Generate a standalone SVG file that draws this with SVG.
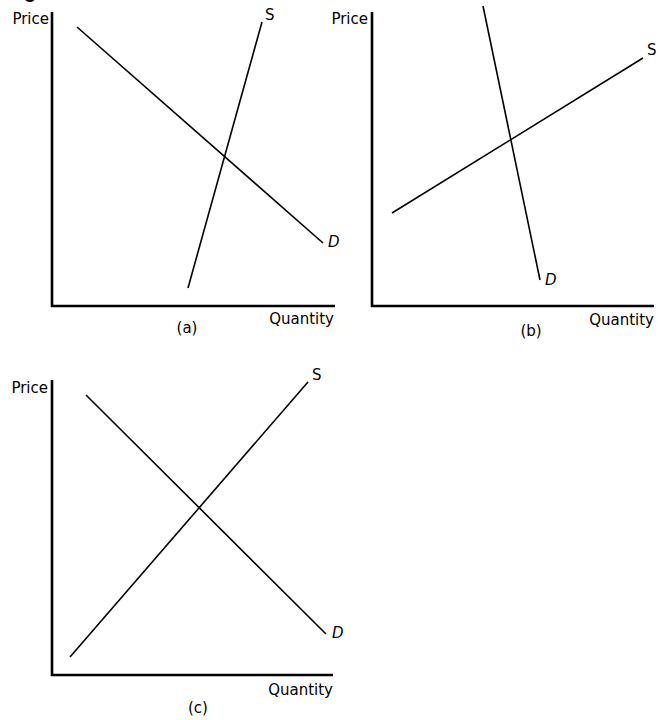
<svg xmlns="http://www.w3.org/2000/svg" width="658" height="720" viewBox="0 0 658 720">
<style>
.axis{stroke:#000;stroke-width:2.6;fill:none}
.curve{stroke:#000;stroke-width:1.6;fill:none}
text{font-family:"DejaVu Sans","Liberation Sans",sans-serif;font-size:15px;fill:#000}
.it{font-style:italic}
.r{text-anchor:end}
.m{text-anchor:middle}
</style>
<rect width="658" height="720" fill="#fff"/>
<text x="24" y="-2" style="font-family:'Liberation Sans',sans-serif;font-weight:bold;font-size:20px">g</text>
<g id="panel-a">
<path class="axis" d="M52 12 V306 H335"/>
<text class="r" x="49" y="24">Price</text>
<text class="r" x="334" y="324">Quantity</text>
<text class="m" x="187" y="333">(a)</text>
</g>
<g id="panel-b">
<path class="axis" d="M372 12 V306 H654"/>
<text class="r" x="368" y="24">Price</text>
<text class="r" x="654" y="325">Quantity</text>
<text class="m" x="531" y="336">(b)</text>
</g>
<g id="panel-c">
<path class="axis" d="M52 380 V675 H333"/>
<text class="r" x="48" y="393">Price</text>
<text class="r" x="333" y="695">Quantity</text>
<text class="m" x="198" y="713">(c)</text>
</g>
<g id="connectors">
<line class="curve" x1="77" y1="27" x2="323" y2="243"/>
<line class="curve" x1="188" y1="288" x2="262" y2="22"/>
<line class="curve" x1="483" y1="6" x2="540" y2="280"/>
<line class="curve" x1="392" y1="213" x2="643" y2="58"/>
<line class="curve" x1="86" y1="395" x2="326" y2="634"/>
<line class="curve" x1="70" y1="657" x2="308" y2="382"/>
</g>
<g id="labels">
<text x="265" y="20">S</text>
<text class="it" x="328" y="247">D</text>
<text x="647" y="55">S</text>
<text class="it" x="545" y="285">D</text>
<text x="312" y="380">S</text>
<text class="it" x="332" y="638">D</text>
</g>
</svg>
